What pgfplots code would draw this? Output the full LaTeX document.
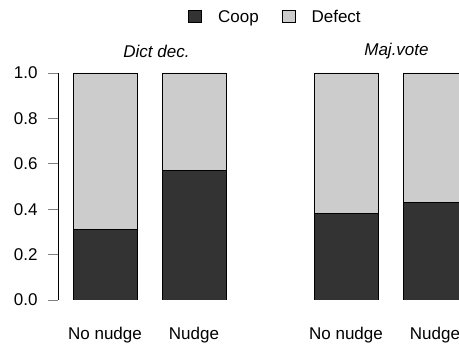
\documentclass[border=0pt]{standalone}
\usepackage{fontspec}
\setmainfont{Liberation Sans}
\usepackage{pgfplots}
\pgfplotsset{compat=1.18}

\definecolor{coopfill}{RGB}{51,51,51}
\definecolor{defectfill}{RGB}{204,204,204}

% Share of cooperation per condition (Dict dec. | Maj.vote)
\pgfplotstableread{
x    coop  defect
105  0.31  0.69
194  0.57  0.43
346  0.38  0.62
435  0.43  0.57
}\sharetable

\begin{document}
\begin{tikzpicture}[x=1pt,y=1pt,font=\fontsize{17}{20}\selectfont]
\useasboundingbox (0,0) rectangle (459,348);
\clip (0,0) rectangle (459,348);
\begin{axis}[
  at={(58pt,48pt)}, anchor=south west,
  scale only axis, width=401pt, height=227pt,
  xmin=58, xmax=459, ymin=0, ymax=1,
  clip mode=individual,
  separate axis lines,
  axis x line*=bottom, x axis line style={draw=none},
  axis y line*=left, y axis line style={line width=0.8pt},
  ybar stacked, bar width=64,
  xtick={105,194,346,435},
  xticklabels={No nudge, Nudge, No nudge, Nudge},
  xtick style={draw=none},
  xticklabel style={anchor=base, yshift=-30pt},
  ytick={0,0.2,0.4,0.6,0.8,1.0},
  ytick style={line width=0.8pt},
  tick align=outside, major tick length=10pt,
  yticklabel style={/pgf/number format/fixed, /pgf/number format/fixed zerofill,
    /pgf/number format/precision=1, xshift=-7pt},
  /pgf/number format/assume math mode=true,
  legend columns=2,
  legend style={at={(axis description cs:0.540,1.2467)}, anchor=center, draw=none,
    fill=none, inner sep=0pt,
    nodes={inner sep=0pt, anchor=west},
    /tikz/every odd column/.append style={column sep=16pt},
    /tikz/every even column/.append style={column sep=23pt}},
]
\addplot[fill=coopfill, draw=black, line width=0.8pt,
  legend image code/.code={\draw[fill=coopfill, draw=black, line width=0.8pt] (0pt,-5.5pt) rectangle (13pt,6.5pt);}]
  table[x=x, y=coop] {\sharetable};
\addplot[fill=defectfill, draw=black, line width=0.8pt,
  legend image code/.code={\draw[fill=defectfill, draw=black, line width=0.8pt] (0pt,-5.5pt) rectangle (13pt,6.5pt);}]
  table[x=x, y=defect] {\sharetable};
\legend{Coop, Defect}
\node[anchor=base, font=\fontsize{17}{20}\selectfont\itshape] at (axis cs:156.5,1.068) {Dict dec.};
\node[anchor=base, font=\fontsize{17}{20}\selectfont\itshape] at (axis cs:396.5,1.079) {Maj.vote};
\end{axis}
\end{tikzpicture}
\end{document}
